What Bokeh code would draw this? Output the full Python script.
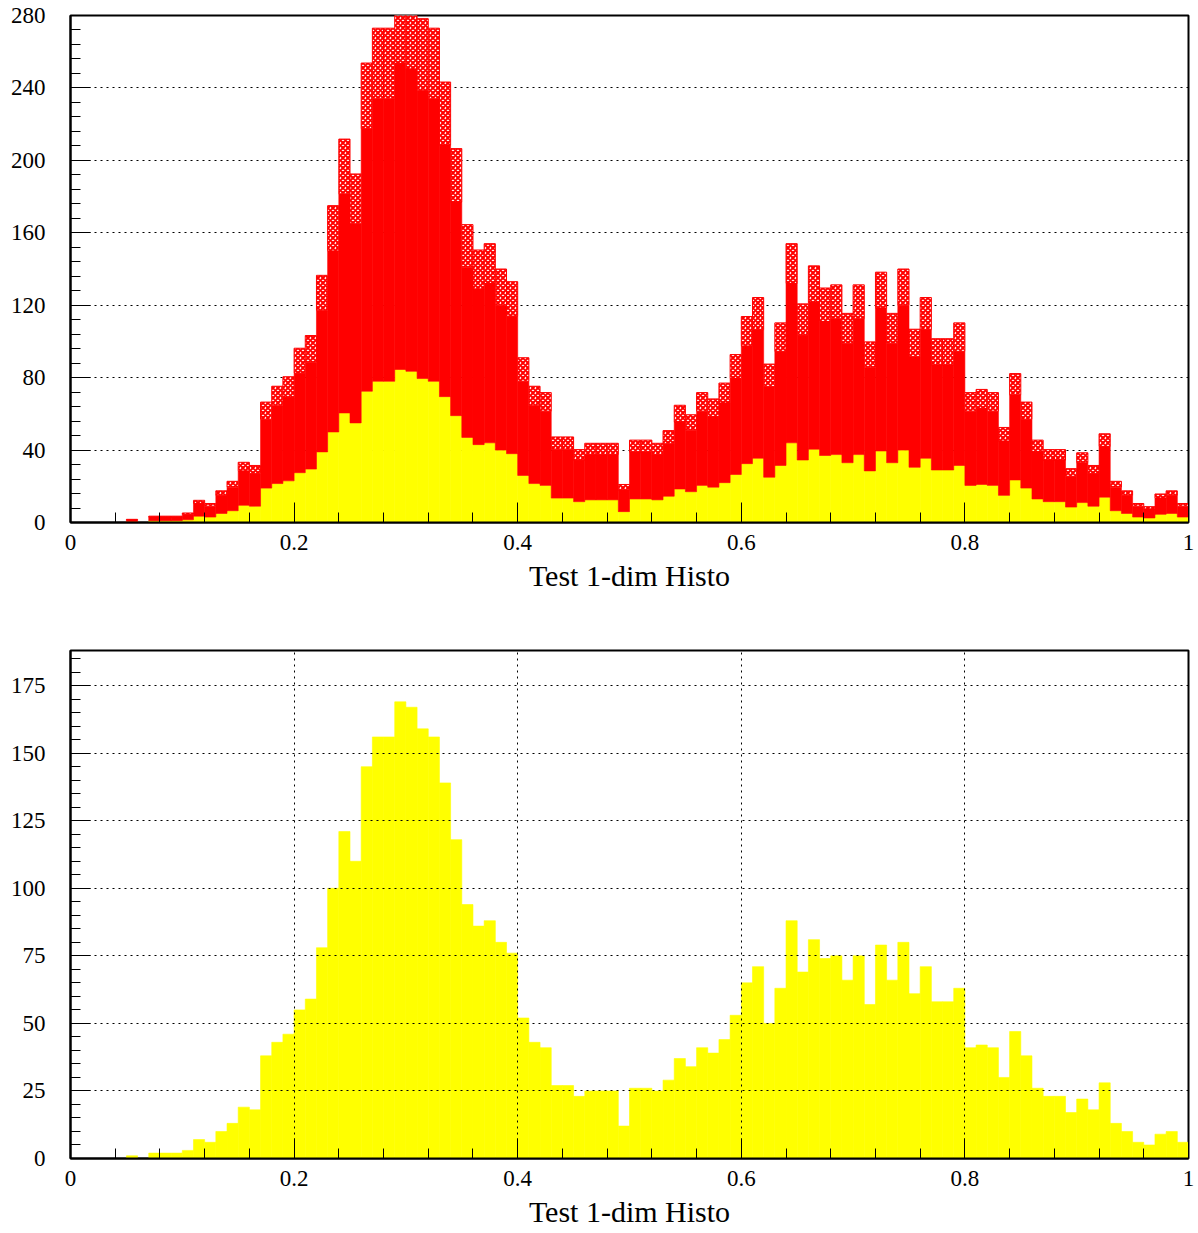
import numpy as np
from bokeh.plotting import figure
from bokeh.layouts import column
from bokeh.models import FixedTicker, Range1d
from bokeh.embed import file_html
from bokeh.resources import INLINE

# ---- histogram definition: 100 bins on [0, 1] ----
x_lo, x_hi, n_bins = 0.0, 1.0, 100
x_title = "Test 1-dim Histo"

# bin contents of the single histogram (lower pad)
counts = [0, 0, 0, 0, 0, 1, 0, 2, 2, 2,
          3, 7, 6, 10, 13, 19, 18, 38, 43, 46,
          55, 59, 78, 100, 121, 110, 145, 156, 156, 169,
          167, 159, 156, 139, 118, 94, 86, 88, 80, 76,
          52, 43, 41, 27, 27, 23, 25, 25, 25, 12,
          26, 26, 25, 29, 37, 34, 41, 39, 44, 53,
          65, 71, 50, 63, 88, 69, 81, 74, 75, 66,
          75, 57, 79, 66, 80, 61, 71, 58, 58, 63,
          41, 42, 41, 30, 47, 38, 26, 23, 23, 17,
          22, 18, 28, 13, 10, 6, 5, 9, 10, 6]

# stacked components of the upper pad (yellow, red, hatched red)
stack_yellow = [0, 0, 0, 0, 0, 0.5, 0, 1, 1, 1,
                1.5, 3.5, 3, 5, 6.5, 9.5, 9, 19, 21.5, 23,
                27.5, 29.5, 39, 50, 60.5, 55, 72.5, 78, 78, 84.5,
                83.5, 79.5, 78, 69.5, 59, 47, 43, 44, 40, 38,
                26, 21.5, 20.5, 13.5, 13.5, 11.5, 12.5, 12.5, 12.5, 6,
                13, 13, 12.5, 14.5, 18.5, 17, 20.5, 19.5, 22, 26.5,
                32.5, 35.5, 25, 31.5, 44, 34.5, 40.5, 37, 37.5, 33,
                37.5, 28.5, 39.5, 33, 40, 30.5, 35.5, 29, 29, 31.5,
                20.5, 21, 20.5, 15, 23.5, 19, 13, 11.5, 11.5, 8.5,
                11, 9, 14, 6.5, 5, 3, 2.5, 4.5, 5, 3]

stack_red = [0, 0, 0, 0, 0, 1, 0, 2, 2, 2,
             3, 7, 6, 10, 13, 19, 18, 38, 43, 46,
             55, 59, 78, 100, 121, 110, 145, 156, 156, 169,
             167, 159, 156, 139, 118, 94, 86, 88, 80, 76,
             52, 43, 41, 27, 27, 23, 25, 25, 25, 12,
             26, 26, 25, 29, 37, 34, 41, 39, 44, 53,
             65, 71, 50, 63, 88, 69, 81, 74, 75, 66,
             75, 57, 79, 66, 80, 61, 71, 58, 58, 63,
             41, 42, 41, 30, 47, 38, 26, 23, 23, 17,
             22, 18, 28, 13, 10, 6, 5, 9, 10, 6]

stack_hatch = [0, 0, 0, 0, 0, 0.25, 0, 0.5, 0.5, 0.5,
               0.75, 1.75, 1.5, 2.5, 3.25, 4.75, 4.5, 9.5, 10.75, 11.5,
               13.75, 14.75, 19.5, 25, 30.25, 27.5, 36.25, 39, 39, 42.25,
               41.75, 39.75, 39, 34.75, 29.5, 23.5, 21.5, 22, 20, 19,
               13, 10.75, 10.25, 6.75, 6.75, 5.75, 6.25, 6.25, 6.25, 3,
               6.5, 6.5, 6.25, 7.25, 9.25, 8.5, 10.25, 9.75, 11, 13.25,
               16.25, 17.75, 12.5, 15.75, 22, 17.25, 20.25, 18.5, 18.75, 16.5,
               18.75, 14.25, 19.75, 16.5, 20, 15.25, 17.75, 14.5, 14.5, 15.75,
               10.25, 10.5, 10.25, 7.5, 11.75, 9.5, 6.5, 5.75, 5.75, 4.25,
               5.5, 4.5, 7, 3.25, 2.5, 1.5, 1.25, 2.25, 2.5, 1.5]

# axis ticks and labels
x_ticks = [0, 0.2, 0.4, 0.6, 0.8, 1]
x_tick_labels = ["0", "0.2", "0.4", "0.6", "0.8", "1"]
top_y_max = 280
top_y_ticks = [0, 40, 80, 120, 160, 200, 240, 280]
bot_y_max = 188
bot_y_ticks = [0, 25, 50, 75, 100, 125, 150, 175]

edges = np.linspace(x_lo, x_hi, n_bins + 1)
left, right = edges[:-1], edges[1:]
x_minor = list(np.round(np.arange(0, 1.0001, 0.04), 4))

SERIF = "Liberation Serif"
YELLOW = "#ffff00"
RED = "#ff0000"


def style(p, y_ticks, y_minor, xgrid):
    p.xaxis.ticker = FixedTicker(ticks=x_ticks, minor_ticks=x_minor)
    p.xaxis.major_label_overrides = dict(zip(x_ticks, x_tick_labels))
    p.yaxis.ticker = FixedTicker(ticks=y_ticks, minor_ticks=y_minor)
    for ax in (p.xaxis[0], p.yaxis[0]):
        ax.axis_line_color = "black"
        ax.axis_line_width = 2
        ax.major_tick_in = 20
        ax.major_tick_out = 0
        ax.minor_tick_in = 10
        ax.minor_tick_out = 0
        ax.major_tick_line_color = "black"
        ax.minor_tick_line_color = "black"
        ax.major_label_text_font = SERIF
        ax.major_label_text_font_size = "23px"
        ax.major_label_text_color = "black"
    p.yaxis.major_label_standoff = 25
    p.xaxis.major_label_standoff = 12
    p.xaxis.axis_label = x_title
    p.xaxis.axis_label_text_font = SERIF
    p.xaxis.axis_label_text_font_style = "normal"
    p.xaxis.axis_label_text_font_size = "30px"
    p.xaxis.axis_label_text_color = "black"
    p.xaxis.axis_label_standoff = 6
    p.outline_line_color = "black"
    p.outline_line_width = 2
    p.ygrid.grid_line_color = "black"
    p.ygrid.grid_line_dash = "2 4"
    p.ygrid.grid_line_width = 1
    if xgrid:
        p.xgrid.grid_line_color = "black"
        p.xgrid.grid_line_dash = "2 4"
        p.xgrid.grid_line_width = 1
        p.xgrid.level = "overlay"
        p.ygrid.level = "overlay"
    else:
        p.xgrid.visible = False


# ---- upper pad: stacked histogram ----
p1 = figure(width=1198, height=620, output_backend="svg", toolbar_location=None,
            x_range=Range1d(x_lo, x_hi), y_range=Range1d(0, top_y_max),
            min_border_left=70, min_border_right=10,
            min_border_top=15, min_border_bottom=98)
p1.background_fill_color = "white"
p1.border_fill_color = "white"

y_top = np.array(stack_yellow, dtype=float)
r_top = y_top + np.array(stack_red, dtype=float)
h_top = r_top + np.array(stack_hatch, dtype=float)

p1.quad(left=left, right=right, bottom=0, top=y_top,
        fill_color=YELLOW, line_color=YELLOW, line_width=0.6)
p1.quad(left=left, right=right, bottom=y_top, top=r_top,
        fill_color=RED, line_color=RED, line_width=0.6)
p1.quad(left=left, right=right, bottom=r_top, top=h_top,
        fill_color="white", hatch_pattern="x", hatch_color=RED,
        hatch_scale=5, hatch_weight=2, line_color=RED, line_width=1)

style(p1, top_y_ticks, list(range(0, top_y_max + 1, 8)), xgrid=False)

# ---- lower pad: single histogram ----
p2 = figure(width=1198, height=613, output_backend="svg", toolbar_location=None,
            x_range=Range1d(x_lo, x_hi), y_range=Range1d(0, bot_y_max),
            min_border_left=70, min_border_right=10,
            min_border_top=30, min_border_bottom=75)
p2.background_fill_color = "white"
p2.border_fill_color = "white"

p2.quad(left=left, right=right, bottom=0, top=counts,
        fill_color=YELLOW, line_color=YELLOW, line_width=0.6)

style(p2, bot_y_ticks, list(range(0, bot_y_max, 5)), xgrid=True)

layout = column(p1, p2, spacing=0)
open("out.html", "w").write(file_html(layout, INLINE))
